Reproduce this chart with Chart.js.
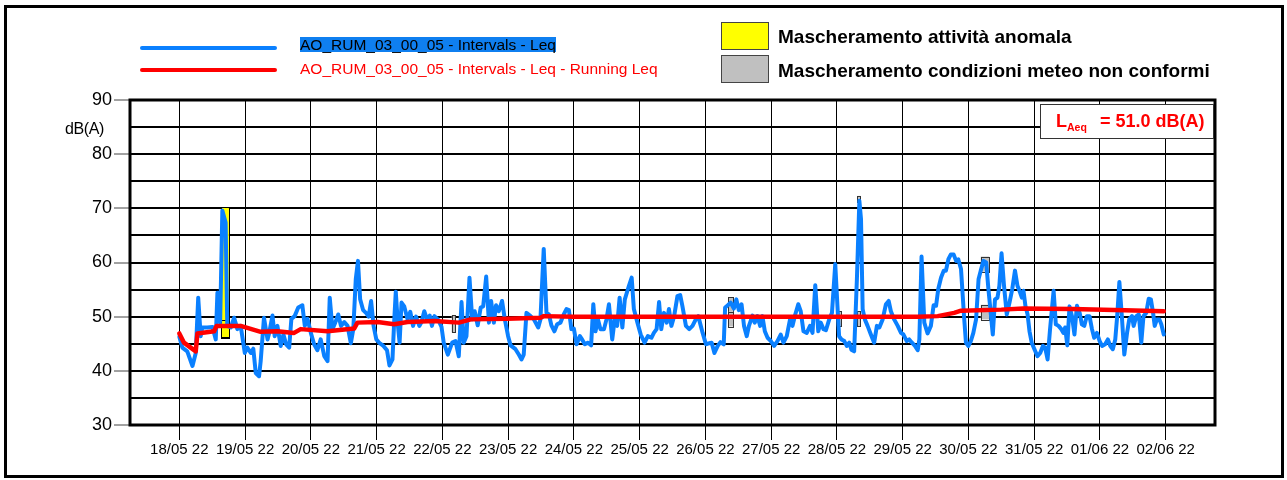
<!DOCTYPE html>
<html><head><meta charset="utf-8">
<script src="https://cdn.jsdelivr.net/npm/chart.js@4"></script>
<style>
body{margin:0;width:1287px;height:480px;background:#fff;position:relative;overflow:hidden;font-family:"Liberation Sans",Arial,sans-serif}
#c{position:absolute;left:0;top:0}
#frame{position:absolute;left:4px;top:5px;width:1280px;height:473px;border:3px solid #000;box-sizing:border-box;pointer-events:none}
.abs{position:absolute;white-space:nowrap}
.lline{position:absolute;height:4px;border-radius:2px;left:140px;width:137px}
.lt{font-size:15.5px;line-height:15px}
.sw{position:absolute;left:721px;width:48px;height:28px;border:1px solid #444;box-sizing:border-box}
.rt{font-size:19px;line-height:19px;font-weight:bold;color:#000;left:778px}
#laeq{position:absolute;left:1040px;top:104px;width:174px;height:35px;border:1px solid #333;box-sizing:border-box;background:#fff}
.red{color:#ff0000;font-weight:bold}
</style></head>
<body>
<canvas id="c" width="1287" height="480"></canvas>
<div id="frame"></div>

<div class="lline" style="top:45.5px;background:#0a80ff"></div>
<div class="lline" style="top:67.5px;background:#ff0000"></div>
<div class="abs lt" style="left:300px;top:36.5px;background:#0f7ff0;color:#000">AO_RUM_03_00_05 - Intervals - Leq</div>
<div class="abs lt" style="left:300px;top:60.5px;color:#ff0000">AO_RUM_03_00_05 - Intervals - Leq - Running Leq</div>

<div class="sw" style="top:22px;background:#ffff00"></div>
<div class="sw" style="top:55px;background:#c0c0c0"></div>
<div class="abs rt" style="top:27px">Mascheramento attività anomala</div>
<div class="abs rt" style="top:60.5px">Mascheramento condizioni meteo non conformi</div>

<div class="abs" style="left:65px;top:120.5px;font-size:16px;line-height:16px;letter-spacing:-0.4px">dB(A)</div>

<div id="laeq"></div>
<div class="abs red" style="left:1056px;top:112px;font-size:18px;line-height:18px">L</div>
<div class="abs red" style="left:1067px;top:122px;font-size:10.5px;line-height:11px">Aeq</div>
<div class="abs red" style="left:1100px;top:112px;font-size:18px;line-height:18px">= 51.0 dB(A)</div>

<script>
// ---- data (hours from 18/05/22 00:00) ----
const leqHours = [0,1.1,2.9,4.8,6.0,6.9,7.8,8.4,10.2,12.1,13.3,13.9,14.9,15.7,16.9,17.5,18.8,20.0,21.2,22.4,23.9,24.8,26.1,27.0,27.9,29.1,29.7,30.9,32.2,32.8,34.0,34.8,35.8,37.0,38.0,39.0,40.1,40.9,42.1,43.4,44.9,45.8,46.8,48.0,49.2,50.4,51.6,52.9,54.1,54.9,55.9,56.9,58.0,59.0,60.2,61.4,62.6,63.5,64.4,65.2,66.0,67.1,68.3,69.1,70.0,70.9,71.9,73.1,74.5,75.8,76.7,77.8,78.4,79.0,79.8,80.4,81.1,82.1,83.3,84.3,85.3,86.4,87.6,88.4,89.4,90.4,91.4,92.2,93.1,94.5,95.7,
96.5,98.0,99.6,100.8,102.0,103.0,103.8,104.8,105.9,106.9,107.8,108.9,110.0,110.9,112.0,113.0,113.8,114.8,115.6,116.6,117.8,118.8,120.0,120.9,122.7,123.9,124.9,125.7,126.7,128.2,129.4,131.0,131.8,133.0,134.0,134.9,135.8,136.9,137.9,139.1,140.3,141.3,142.2,143.1,144.0,145.0,146.2,147.0,148.0,149.2,150.3,151.1,151.9,152.8,153.7,155.0,155.9,156.8,158.0,158.9,159.8,160.7,161.7,162.6,164.1,165.1,165.9,167.2,168.4,169.8,171.0,172.3,173.2,174.2,175.1,175.9,176.9,177.9,178.7,179.6,180.6,181.8,182.8,183.6,184.9,186.1,187.3,188.5,189.4,191.0,192.2,193.5,194.3,195.3,196.5,197.5,198.7,199.2,200.2,201.2,202.4,203.3,204.2,
205.2,206.1,207.1,207.9,209.2,210.0,211.0,212.0,212.8,213.7,214.7,215.9,217.1,218.3,219.5,220.5,221.7,222.9,223.8,224.8,225.9,226.8,227.8,229.0,230.2,231.1,232.1,233.2,234.1,235.1,236.0,237.2,238.2,239.4,240.2,240.8,241.7,242.7,243.6,244.5,245.3,246.3,247.3,248.2,248.8,249.4,250.2,251.2,252.4,253.6,254.6,255.5,256.7,257.9,258.9,259.7,260.9,262.2,263.4,264.3,265.5,266.4,267.4,268.5,269.5,270.1,270.9,271.9,273.1,274.3,275.3,276.2,277.0,278.0,279.0,279.8,280.7,281.6,282.6,283.5,284.3,285.3,
286.4,287.1,288.0,288.9,289.8,290.8,291.7,292.5,293.5,294.5,295.3,295.9,296.9,297.7,298.6,299.3,300.1,301.0,302.0,303.0,304.0,305.0,305.9,306.9,307.5,308.1,308.8,309.6,310.3,311.1,312.1,313.2,314.2,315.2,316.0,316.9,317.8,319.1,319.9,320.9,321.9,322.7,323.3,324.1,324.9,325.8,326.7,327.6,328.6,329.4,330.3,331.2,332.2,333.1,333.9,334.9,335.9,336.8,337.9,338.9,339.8,340.7,341.6,342.3,343.1,344.0,344.9,345.9,346.7,347.7,348.3,349.3,350.2,351.1,351.9,352.9,353.8,354.6,355.4,356.0,356.8,357.7,358.4,359.3];
const leqValues = [46.3,44.3,43.6,40.9,43.3,53.5,46.4,48.0,48.0,48.1,45.8,54.4,48.9,69.6,67.4,48.3,48.0,49.8,47.7,48.3,43.3,44.3,43.3,44.1,39.6,39.0,41.8,49.8,45.8,47.0,50.2,46.4,48.3,44.6,46.7,44.9,44.3,49.6,50.1,51.7,52.1,48.3,49.6,47.0,44.9,43.8,45.8,42.7,41.8,53.5,47.7,48.9,50.4,48.3,49.0,48.3,45.1,47.7,56.9,60.3,53.2,51.2,50.6,50.0,52.9,48.3,45.8,45.1,44.6,43.8,41.0,42.1,48.9,54.6,48.3,45.2,52.6,51.9,49.5,50.9,48.3,50.0,48.3,49.0,51.0,49.5,50.2,48.3,50.1,49.4,48.1,
45.2,43.0,45.2,45.5,42.7,52.7,45.2,46.4,57.2,49.5,51.0,48.4,51.7,51.9,57.4,48.9,52.9,48.9,52.1,51.0,52.9,49.5,46.4,44.7,44.0,43.0,42.1,43.0,50.7,50.1,49.5,48.0,49.5,62.5,50.7,50.4,48.4,47.3,48.6,48.9,50.4,51.4,51.2,47.7,47.8,44.9,46.4,45.8,44.9,45.2,44.7,52.3,47.3,49.5,47.7,47.7,49.5,52.3,45.8,49.5,48.3,53.5,48.0,53.2,55.7,57.2,51.4,48.9,46.7,45.2,46.4,46.1,47.0,47.7,52.7,47.7,50.7,48.9,51.4,48.3,50.1,53.8,54.0,52.0,48.3,47.7,48.3,49.5,50.1,47.0,44.9,45.1,45.2,43.3,44.6,45.3,44.9,51.7,52.1,52.6,51.5,53.2,51.2,
52.3,48.3,46.4,48.3,50.2,48.9,50.1,48.3,50.1,47.3,46.1,45.5,44.6,45.5,46.7,45.2,46.4,49.5,48.3,50.4,52.3,51.0,47.3,47.0,48.3,47.0,55.8,47.3,48.9,47.7,47.5,49.5,50.7,59.7,52.0,46.4,45.8,45.5,44.6,45.2,43.9,43.6,56.9,71.4,68.0,51.4,49.5,48.3,46.7,45.2,48.3,48.0,49.5,52.3,52.9,51.0,49.5,48.3,47.0,46.7,45.5,45.8,45.2,44.6,43.8,45.8,61.1,48.9,46.9,48.3,52.1,52.0,55.1,57.2,58.5,58.5,60.6,61.5,61.5,60.3,60.6,58.8,
50.1,45.2,44.6,45.5,47.0,49.5,56.9,58.5,60.3,60.0,55.1,52.0,46.7,53.2,53.5,55.7,61.7,55.7,50.4,52.6,55.1,58.5,55.7,54.4,53.5,54.8,52.0,50.4,47.3,45.2,44.0,42.7,43.3,44.6,44.3,42.1,47.7,54.8,48.6,48.3,47.7,47.0,48.0,44.7,51.9,50.1,46.7,52.0,50.7,48.6,48.3,50.1,50.1,47.7,46.1,47.0,45.5,44.6,44.9,45.8,44.6,44.0,45.8,50.1,56.4,50.1,43.0,47.0,49.5,50.1,48.3,50.1,50.4,45.2,50.1,50.7,53.3,53.2,50.7,48.3,49.5,49.5,48.6,46.7];

const runHours  = [0,1.7,6.0,6.6,12.7,13.6,22.4,29.7,35.8,41.9,44.3,54.1,63.8,65.0,72.4,78.4,83.3,93.1,102,106.4,119.6,131.8,133,144,200,269.5,276.8,282.8,285.3,300,308,326,345,359.3];
const runValues = [46.9,45.2,43.6,46.9,47.3,48.3,48.3,47.2,47.3,47.0,47.7,47.3,47.8,48.9,49.0,48.6,49.0,49.2,48.9,49.5,49.6,49.8,50.1,50.0,50.0,50.0,50.1,50.7,51.1,51.3,51.5,51.4,51.2,51.0];

// masking boxes: [startHour, endHour, lowDb, highDb]
const maskAnomalous = [[15.2,18.1,46.1,70.2],[15.2,18.1,46.25,49.4]];
const maskWeather = [[99.4,100.6,47.1,50.3],[200.4,202.4,50.9,53.6],[200.4,202.4,48.2,50.9],[240.0,241.5,48.2,51.0],[247.5,248.7,71.2,72.3],[247.5,248.7,48.2,51.0],[292.5,295.6,58.3,61.1],[292.5,295.6,49.5,52.2]];

const dayTickHours  = [0,24,48,72,96,120,144,168,192,216,240,264,288,312,336,360];
const dayTickLabels = ['18/05 22','19/05 22','20/05 22','21/05 22','22/05 22','23/05 22','24/05 22','25/05 22','26/05 22','27/05 22','28/05 22','29/05 22','30/05 22','31/05 22','01/06 22','02/06 22'];
const yTickValues = [30,35,40,45,50,55,60,65,70,75,80,85,90];

const FONT = "'Liberation Sans', Arial, sans-serif";

const maskPlugin = {
  id: 'masks',
  beforeDatasetsDraw(chart) {
    const {ctx, scales: {x, y}} = chart;
    const draw = (boxes, fill, stroke) => {
      boxes.forEach(b => {
        const x0 = x.getPixelForValue(b[0]), x1 = x.getPixelForValue(b[1]);
        const y0 = y.getPixelForValue(b[3]), y1 = y.getPixelForValue(b[2]);
        ctx.save();
        ctx.fillStyle = fill; ctx.strokeStyle = stroke; ctx.lineWidth = 1;
        ctx.fillRect(x0, y0, x1 - x0, y1 - y0);
        ctx.strokeRect(Math.round(x0) + 0.5, Math.round(y0) + 0.5, Math.round(x1 - x0), Math.round(y1 - y0));
        ctx.restore();
      });
    };
    draw(maskAnomalous, '#ffff00', '#000');
    draw(maskWeather, '#c0c0c0', '#333');
  }
};
const borderPlugin = {
  id: 'plotBorder',
  afterDraw(chart) {
    const {ctx, chartArea: a} = chart;
    ctx.save();
    ctx.strokeStyle = '#000'; ctx.lineWidth = 3;
    ctx.strokeRect(a.left, a.top, a.right - a.left, a.bottom - a.top);
    ctx.restore();
  }
};

new Chart(document.getElementById('c'), {
  type: 'line',
  data: {
    datasets: [
      { label: 'AO_RUM_03_00_05 - Intervals - Leq - Running Leq',
        data: runHours.map((h, i) => ({x: h, y: runValues[i]})),
        borderColor: '#ff0000', borderWidth: 4.5, pointRadius: 0, tension: 0,
        borderJoinStyle: 'round', borderCapStyle: 'round', order: 0 },
      { label: 'AO_RUM_03_00_05 - Intervals - Leq',
        data: leqHours.map((h, i) => ({x: h, y: leqValues[i]})),
        borderColor: '#0a80ff', borderWidth: 4, pointRadius: 0, tension: 0,
        borderJoinStyle: 'round', borderCapStyle: 'round', order: 1 }
    ]
  },
  options: {
    responsive: false, animation: false, devicePixelRatio: 1,
    layout: { padding: { left: 0, top: 100, right: 72, bottom: 0 } },
    plugins: { legend: { display: false }, tooltip: { enabled: false } },
    scales: {
      x: {
        type: 'linear', min: -18, max: 378,
        afterBuildTicks: s => { s.ticks = dayTickHours.map(v => ({value: v})); },
        afterFit: s => { s.height = 55; },
        border: { display: false },
        grid: { color: '#000', lineWidth: 1, tickLength: 15, tickColor: '#000', tickWidth: 1 },
        ticks: { autoSkip: false, maxRotation: 0, padding: 1, color: '#000',
                 font: { family: FONT, size: 15 },
                 callback: (v, i) => dayTickLabels[i] }
      },
      y: {
        type: 'linear', min: 30, max: 90,
        afterBuildTicks: s => { s.ticks = yTickValues.map(v => ({value: v})); },
        afterFit: s => { s.width = 130; },
        border: { display: false },
        grid: { color: '#000', lineWidth: 2, tickLength: 16,
                tickColor: c => (c.tick && c.tick.value % 10 === 0) ? '#444' : 'rgba(0,0,0,0)', tickWidth: 1 },
        ticks: { padding: 2, color: '#000', font: { family: FONT, size: 18 },
                 callback: v => (v % 10 === 0 ? String(v) : '') }
      }
    }
  },
  plugins: [maskPlugin, borderPlugin]
});
</script>
</body></html>
